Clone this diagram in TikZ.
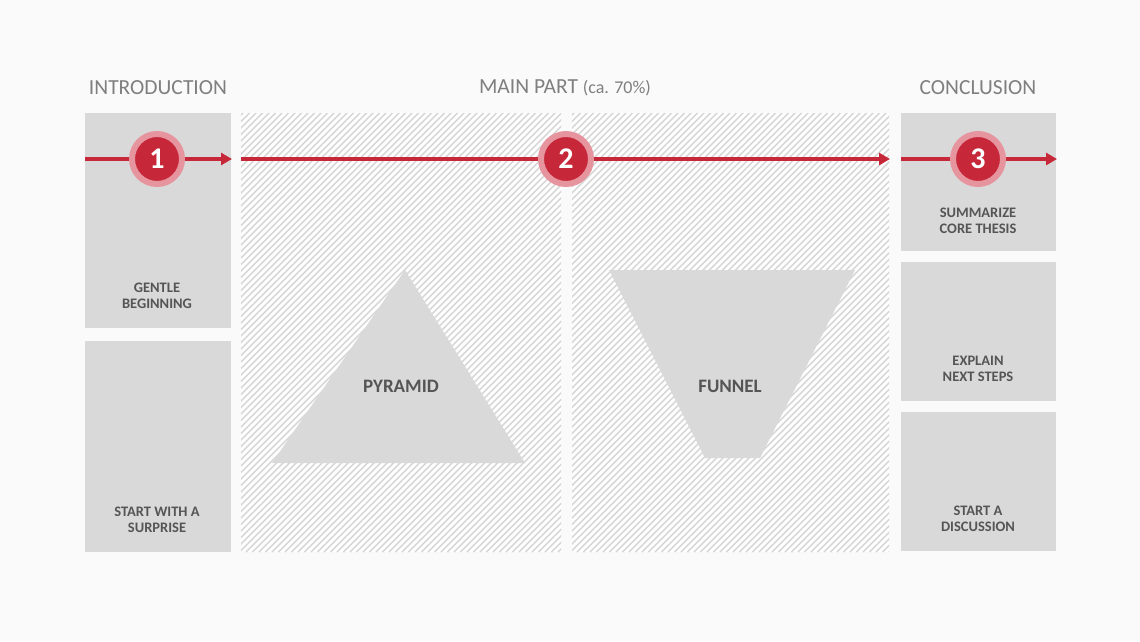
\documentclass[tikz,border=0pt]{standalone}
\usepackage{fontspec}
\setmainfont{Carlito}
\usetikzlibrary{arrows.meta}
\definecolor{boxgray}{HTML}{D9D9D9}
\definecolor{hatchgray}{HTML}{D8D8D8}
\definecolor{bgwhite}{HTML}{FAFAFA}
\definecolor{redline}{HTML}{C62839}
\definecolor{halo}{HTML}{E6959F}
\definecolor{txtdark}{HTML}{555555}
\definecolor{txthead}{HTML}{7F7F7F}
\begin{document}
\begin{tikzpicture}[x=1pt,y=-1pt,
  graybox/.style={fill=boxgray,draw=none},
  boxtext/.style={font=\fontsize{14.5}{15.5}\selectfont\bfseries,text=txtdark,align=center},
  bigtext/.style={font=\fontsize{19}{20}\selectfont\bfseries,text=txtdark},
  headtext/.style={font=\fontsize{21.5}{24}\selectfont,text=txthead},
  numcirc/.style={circle,fill=redline,draw=halo,line width=6pt,minimum size=50pt,inner sep=0pt,
    font=\fontsize{30}{32}\selectfont\bfseries,text=white},
  redarrow/.style={draw=redline,line width=3.2pt,-{Triangle[length=11pt,width=12pt]}}]
\useasboundingbox (0,0) rectangle (1140,641);
\fill[bgwhite] (0,0) rectangle (1140,641);

% intro boxes
\fill[graybox] (85,113) rectangle (231,328);
\fill[graybox] (85,341) rectangle (231,552);
% conclusion boxes
\fill[graybox] (901,113) rectangle (1056,251);
\fill[graybox] (901,262) rectangle (1056,401);
\fill[graybox] (901,412) rectangle (1056,551);

% hatched panels
\foreach \xa/\xb in {241/561,572/889}{
  \begin{scope}
    \clip (\xa,113) rectangle (\xb,552);
    \fill[white] (\xa,113) rectangle (\xb,552);
    \foreach \i in {0,6.5,...,790}{
      \draw[hatchgray,line width=1.5pt] (\xa+\i-450,552) -- (\xa+\i,102);
    }
  \end{scope}
}

% pyramid and funnel
\fill[boxgray] (405,270) -- (525,463) -- (272,463) -- cycle;
\fill[boxgray] (609,270) -- (855,270) -- (760,458) -- (705,458) -- cycle;
\node[bigtext] (pyr) at (401,386) {PYRAMID};
\node[bigtext] (fun) at (730,386) {FUNNEL};

% headers
\node[headtext] (hintro) at (158,88) {INTRODUCTION};
\node[headtext] (hmain) at (565,88) {MAIN PART {\fontsize{18}{20}\selectfont(ca. 70\%)}};
\node[headtext] (hconc) at (978,88) {CONCLUSION};

% box texts
\node[boxtext] (t1) at (157,296) {GENTLE\\BEGINNING};
\node[boxtext] (t2) at (157,520) {START WITH A\\SURPRISE};
\node[boxtext] (t3) at (978,221) {SUMMARIZE\\CORE THESIS};
\node[boxtext] (t4) at (978,369) {EXPLAIN\\NEXT STEPS};
\node[boxtext] (t5) at (978,519) {START A\\DISCUSSION};

% arrow coordinates
\coordinate (a0) at (85,159);
\coordinate (a1) at (232,159);
\coordinate (b0) at (241,159);
\coordinate (b1) at (890,159);
\coordinate (c0) at (901,159);
\coordinate (c1) at (1057,159);
\draw[redarrow] (a0) -- (a1);
\draw[redarrow] (b0) -- (b1);
\draw[redarrow] (c0) -- (c1);

% number circles
\node[numcirc] (n1) at (157,159) {1};
\node[numcirc] (n2) at (566,159) {2};
\node[numcirc] (n3) at (978,159) {3};
\end{tikzpicture}
\end{document}
